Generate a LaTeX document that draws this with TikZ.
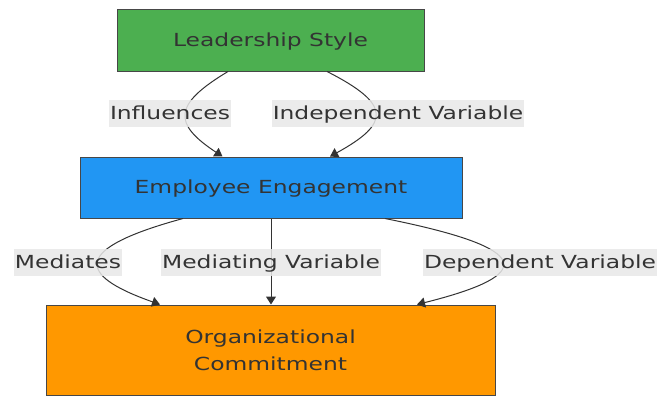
\documentclass[tikz,border=0pt]{standalone}
\usepackage{fontspec}
\setmainfont{DejaVu Sans}[FakeStretch=1.3]
\usetikzlibrary{arrows.meta}
\definecolor{lsgreen}{HTML}{4CAF50}
\definecolor{eeblue}{HTML}{2196F3}
\definecolor{ocorange}{HTML}{FF9800}
\definecolor{ink}{HTML}{333333}
\definecolor{edgebg}{HTML}{E8E8E8}
\tikzset{
  x=1pt, y=-1pt,
  box/.style={draw=ink!90, line width=1pt, text=ink, font=\fontsize{18}{27}\selectfont, align=center, inner sep=0pt},
  elabel/.style={fill=edgebg, fill opacity=0.85, text opacity=1, text=ink, font=\fontsize{18}{22}\selectfont,
    inner xsep=1pt, inner ysep=0pt, minimum height=27pt, text height=12pt, text depth=0pt},
  link/.style={draw=ink, line width=1pt, -{Triangle[length=8pt,width=10pt]}},
}
\begin{document}
\begin{tikzpicture}
\useasboundingbox (0,0) rectangle (660,408);
% boxes
\node[box, fill=lsgreen, minimum width=307pt, minimum height=62pt, text height=12pt, text depth=0pt] (ls) at (270.5,40) {Leadership Style};
\node[box, fill=eeblue, minimum width=382pt, minimum height=61pt, text height=12pt, text depth=0pt] (ee) at (271,187.5) {Employee Engagement};
\node[box, fill=ocorange, minimum width=449pt, minimum height=90pt] (oc) at (270.5,350) {Organizational\\Commitment};
% connectors
\draw[link] ([xshift=-42.5pt]ls.south) .. controls +(-55,33) and +(-50,-33) .. ([xshift=-48.5pt]ee.north);
\draw[link] ([xshift=56.5pt]ls.south) .. controls +(65,33) and +(60,-33) .. ([xshift=59pt]ee.north);
\draw[link] ([xshift=-88pt]ee.south) .. controls +(-110,30) and +(-85,-30) .. ([xshift=-110.5pt]oc.north);
\draw[link] (ee.south) -- (ee.south |- oc.north);
\draw[link] ([xshift=114pt]ee.south) .. controls +(150,30) and +(120,-30) .. ([xshift=146.5pt]oc.north);
% edge labels
\node[elabel] (l1) at (170,113.5) {Influences};
\node[elabel] (l2) at (398,113.5) {Independent Variable};
\node[elabel] (l3) at (68,262.5) {Mediates};
\node[elabel] (l4) at (271,262.5) {Mediating Variable};
\node[elabel] (l5) at (540,262.5) {Dependent Variable};
\end{tikzpicture}
\end{document}
